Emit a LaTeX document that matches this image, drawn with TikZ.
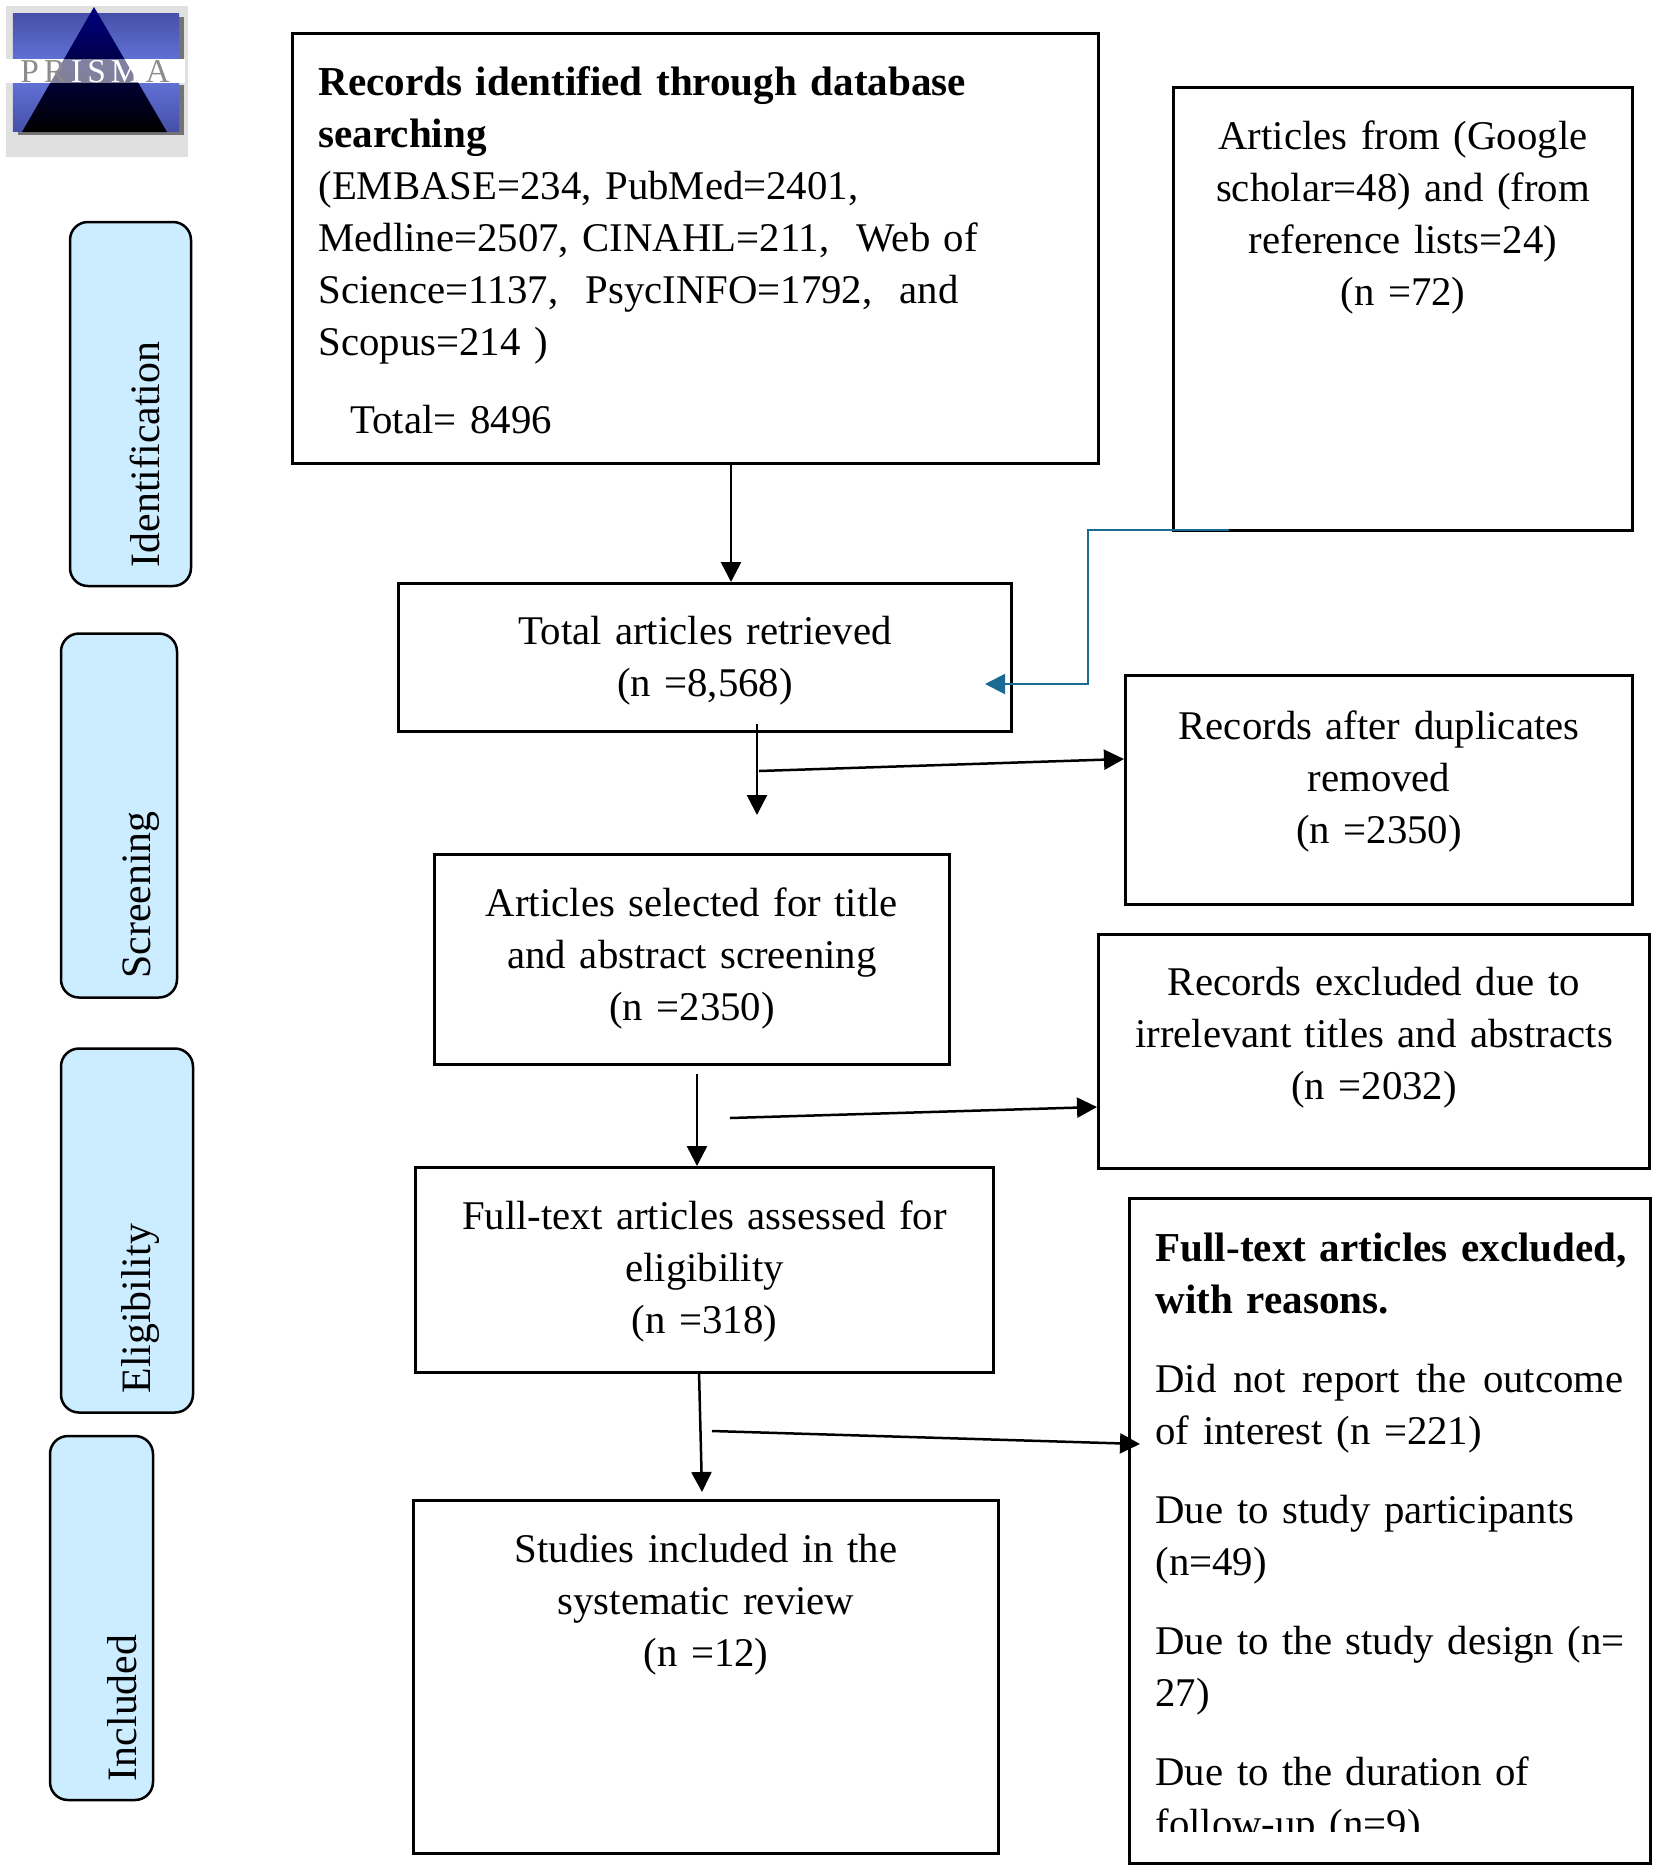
\documentclass[tikz,border=0pt]{standalone}
\usepackage{fontspec}
\usepackage{xcolor}
\setmainfont[WordSpace=0.8]{Liberation Serif}
\usetikzlibrary{arrows.meta}
\definecolor{stageblue}{HTML}{CCECFF}
\definecolor{feedblue}{HTML}{1B6A94}
\definecolor{logodark}{HTML}{4650A8}
\definecolor{logolight}{HTML}{6070D4}
\newcommand{\headtext}[1]{{\fontsize{23.4}{29.6}\selectfont\bfseries #1}}
\tikzset{
    flowbox/.style={draw, line width=0.06cm, inner xsep=0.3cm, inner ysep=0pt, anchor=north west, align=center, font=\fontsize{23.2}{29.6}\selectfont},
    sidebox/.style={flowbox, inner xsep=0.52cm, align=left},
    stagebox/.style={draw, line width=0.05cm, fill=stageblue, rounded corners=0.36cm, rotate=90, inner xsep=0.38cm, inner ysep=0pt, minimum width=7.28cm, text width=6.52cm, align=left, font=\fontsize{23.8}{29.6}\selectfont},
    flowarrow/.style={-{Triangle[length=0.4cm,width=0.4cm]}, line width=0.05cm},
    feedarrow/.style={-{Triangle[length=0.4cm,width=0.4cm]}, line width=0.04cm, draw=feedblue, color=feedblue}
}
\begin{document}
\begin{tikzpicture}
            \useasboundingbox (0, 0) rectangle (33.08, -37.34);

            % logo
            \fill[black!12] (0.12, -0.12) rectangle (3.76, -3.14);
            \fill[black!55] (0.36, -0.34) rectangle (3.68, -1.2);
            \fill[black!55] (0.36, -1.7) rectangle (3.68, -2.7);
            \shade[top color=logodark, bottom color=logolight] (0.26, -0.26) rectangle (3.58, -1.18);
            \shade[top color=logolight, bottom color=logodark] (0.26, -1.66) rectangle (3.58, -2.62);
            \fill[white] (0.12, -1.18) rectangle (3.7, -1.66);
            \shade[top color=blue!50!black, bottom color=black] (1.88, -0.14) -- (3.34, -2.64) -- (0.44, -2.64) -- cycle;
            \fill[white, opacity=0.5] (0.12, -1.18) rectangle (3.7, -1.66);
            \node[text=white, font=\fontsize{19}{20}\selectfont] (logotext) at (1.9, -1.44) {{\color{black!45}P\hspace{0.1cm}R}\hspace{0.1cm}I\hspace{0.1cm}S\hspace{0.1cm}M\hspace{0.1cm}{\color{black!45}A}};

            % stages
            \node[stagebox, text height=1.78cm, text depth=0.64cm] (identification) at (2.61, -8.08) {Identification};
            \node[stagebox, text height=1.78cm, text depth=0.54cm] (screening) at (2.38, -16.31) {Screening};
            \node[stagebox, text height=1.78cm, text depth=0.86cm] (eligibility) at (2.54, -24.61) {Eligibility};
            \node[stagebox, text height=1.72cm, text depth=0.34cm] (included) at (2.03, -32.36) {Included};

            % boxes
            \node[sidebox, minimum width=16.12cm, text width=15.08cm, text height=1.24cm, text depth=7.36cm] (records) at (5.82, -0.64) {\headtext{Records identified through database}\\\headtext{searching}\\(EMBASE=234, PubMed=2401,\\Medline=2507, CINAHL=211,\ \ Web of\\Science=1137,\ \ PsycINFO=1792,\ \ and\\Scopus=214 )\\[0.52cm]\hspace*{0.64cm}Total= 8496};
            \node[flowbox, minimum width=9.18cm, text width=8.58cm, text height=1.24cm, text depth=7.62cm] (articles) at (23.44, -1.72) {Articles from (Google\\scholar=48) and (from\\reference lists=24)\\(n =72)};
            \node[flowbox, minimum width=12.26cm, text width=11.66cm, text height=1.22cm, text depth=1.74cm] (total) at (7.94, -11.64) {Total articles retrieved\\(n =8,568)};
            \node[flowbox, minimum width=10.14cm, text width=9.54cm, text height=1.27cm, text depth=3.31cm] (duplicates) at (22.48, -13.48) {Records after duplicates\\removed\\(n =2350)};
            \node[flowbox, minimum width=10.3cm, text width=9.7cm, text height=1.24cm, text depth=2.96cm] (selected) at (8.66, -17.06) {Articles selected for title\\and abstract screening\\(n =2350)};
            \node[flowbox, minimum width=11.02cm, text width=10.42cm, text height=1.22cm, text depth=3.46cm] (irrelevant) at (21.94, -18.66) {Records excluded due to\\irrelevant titles and abstracts\\(n =2032)};
            \node[flowbox, minimum width=11.56cm, text width=10.96cm, text height=1.24cm, text depth=2.86cm] (fulltext) at (8.28, -23.32) {Full-text articles assessed for\\eligibility\\(n =318)};
            \node[flowbox, minimum width=11.7cm, text width=11.1cm, text height=1.24cm, text depth=5.82cm] (studies) at (8.24, -29.98) {Studies included in the\\systematic review\\(n =12)};
            \node[sidebox, minimum width=10.42cm, text width=9.38cm, text height=1.26cm, text depth=12.04cm] (reasons) at (22.56, -23.94) {\makebox[9.3cm][l]{\headtext{Full-text articles excluded,}}\\\headtext{with reasons.}\\[0.54cm]\makebox[9.36cm][s]{Did\hfill not\hfill report\hfill the\hfill outcome}\\of interest (n =221)\\[0.54cm]Due to study participants\\(n=49)\\[0.54cm]\makebox[9.3cm][l]{Due to the study design (n=}\\27)\\[0.54cm]Due to the duration of\\follow-up (n=9)};
            % bottom of the last line is cut off
            \fill[white] (23, -36.64) rectangle (32.8, -37.1);

            % free ends
            \coordinate (retrievedin) at (14.62, -11.64);
            \coordinate (totalout) at (15.14, -14.48);
            \coordinate (totaldown) at (15.14, -16.3);
            \coordinate (dupstart) at (15.18, -15.42);
            \coordinate (dupin) at (22.48, -15.18);
            \coordinate (selectedout) at (13.94, -21.48);
            \coordinate (selectedin) at (13.94, -23.32);
            \coordinate (irrstart) at (14.6, -22.36);
            \coordinate (irrin) at (21.94, -22.14);
            \coordinate (fulltextout) at (13.98, -27.42);
            \coordinate (fulltextdown) at (14.04, -29.84);
            \coordinate (reasonstart) at (14.24, -28.62);
            \coordinate (reasonin) at (22.8, -28.88);
            \coordinate (feedstart) at (24.58, -10.6);
            \coordinate (feedcorner) at (21.76, -10.6);
            \coordinate (feedbend) at (21.76, -13.68);
            \coordinate (feedin) at (19.7, -13.68);

            % arrows
            \draw[flowarrow] (records.south -| retrievedin) -- (retrievedin);
            \draw[flowarrow] (totalout) -- (totaldown);
            \draw[flowarrow] (dupstart) -- (dupin);
            \draw[flowarrow] (selectedout) -- (selectedin);
            \draw[flowarrow] (irrstart) -- (irrin);
            \draw[flowarrow] (fulltextout) -- (fulltextdown);
            \draw[flowarrow] (reasonstart) -- (reasonin);
            \draw[feedarrow] (feedstart) -- (feedcorner) -- (feedbend) -- (feedin);
        \end{tikzpicture}
\end{document}
